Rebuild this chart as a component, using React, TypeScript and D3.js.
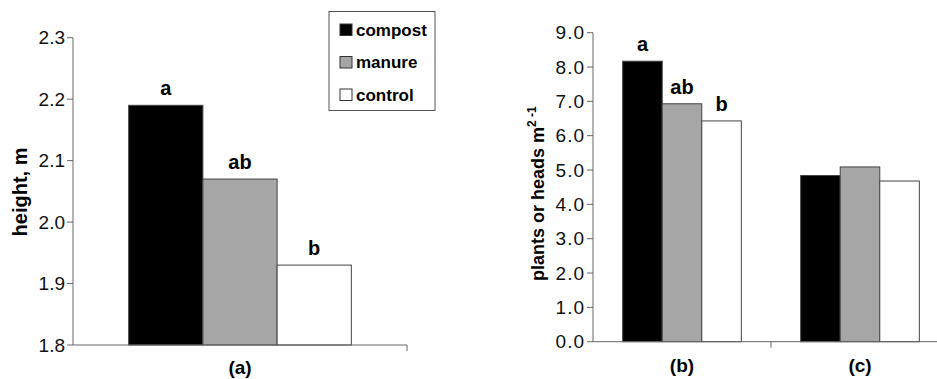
import React, { useEffect, useRef } from "react";
import * as d3 from "d3";

// treatments (legend + bar order)
const series = ["compost", "manure", "control"];
const seriesFill = ["#000000", "#a6a6a6", "#ffffff"];

// panel (a): plant height
const heightCats = ["(a)"];
const heightValues = [[2.19, 2.07, 1.93]];
const heightLetters = [["a", "ab", "b"]];
const heightTicks = [1.8, 1.9, 2.0, 2.1, 2.2, 2.3];

// panels (b) and (c): plants or heads per m2
const densityCats = ["(b)", "(c)"];
const densityValues = [
  [8.17, 6.93, 6.43],
  [4.84, 5.09, 4.68],
];
const densityLetters = [["a", "ab", "b"], ["", "", ""]];
const densityTicks = [0, 1, 2, 3, 4, 5, 6, 7, 8, 9];

const W = 937;
const H = 379;
const FONT = "'Liberation Sans', Arial, sans-serif";
const AXIS = "#666666";

const App = () => {
  const svgRef = useRef<SVGSVGElement>(null);

  useEffect(() => {
    const svg = d3.select(svgRef.current);
    svg.selectAll("*").remove();

    //draws one panel: axes, grouped bars, letters, category labels
    const drawPanel = (opts: {
      cats: string[];
      values: number[][];
      letters: string[][];
      ticks: number[];
      yDomain: [number, number];
      yRange: [number, number];
      xRange: [number, number];
      xEnd: number;
      tickFmt: (d: number) => string;
      tickSpacing: number;
      catY: number;
    }) => {
      const g = svg.append("g");
      const y = d3.scaleLinear().domain(opts.yDomain).range(opts.yRange);
      const x = d3.scaleBand<string>().domain(opts.cats).range(opts.xRange);
      const bw = x.bandwidth();
      const inner = d3
        .scaleBand<string>()
        .domain(series)
        .range([bw / 6, (bw * 5) / 6]);
      const x0 = opts.xRange[0];
      const yBase = y(opts.yDomain[0]);

      //bars
      opts.cats.forEach((c, ci) => {
        series.forEach((s, si) => {
          const v = opts.values[ci][si];
          const bx = (x(c) as number) + (inner(s) as number);
          g.append("rect")
            .attr("x", bx)
            .attr("y", y(v))
            .attr("width", inner.bandwidth())
            .attr("height", yBase - y(v))
            .attr("fill", seriesFill[si])
            .attr("stroke", "#444")
            .attr("stroke-width", 1);
          const lt = opts.letters[ci][si];
          if (lt) {
            g.append("text")
              .attr("x", bx + inner.bandwidth() / 2)
              .attr("y", y(v) - 10)
              .attr("text-anchor", "middle")
              .style("font-family", FONT)
              .style("font-weight", "bold")
              .style("font-size", "20px")
              .text(lt);
          }
        });
        //category label
        g.append("text")
          .attr("x", (x(c) as number) + bw / 2)
          .attr("y", opts.catY)
          .attr("text-anchor", "middle")
          .style("font-family", FONT)
          .style("font-weight", "bold")
          .style("font-size", "19px")
          .text(c);
      });

      //y axis
      g.append("line")
        .attr("x1", x0).attr("x2", x0)
        .attr("y1", y(opts.yDomain[1])).attr("y2", yBase)
        .attr("stroke", AXIS);
      opts.ticks.forEach((t) => {
        g.append("line")
          .attr("x1", x0 - 6).attr("x2", x0)
          .attr("y1", y(t)).attr("y2", y(t))
          .attr("stroke", AXIS);
        g.append("text")
          .attr("x", x0 - 8)
          .attr("y", y(t) + 6.5)
          .attr("text-anchor", "end")
          .style("font-family", FONT)
          .style("font-size", "19px")
          .style("letter-spacing", `${opts.tickSpacing}px`)
          .attr("fill", "#111")
          .text(opts.tickFmt(t));
      });

      //x axis with ticks between categories
      g.append("line")
        .attr("x1", x0).attr("x2", opts.xEnd)
        .attr("y1", yBase).attr("y2", yBase)
        .attr("stroke", AXIS);
      opts.cats.forEach((c) => {
        const tx = (x(c) as number) + bw;
        g.append("line")
          .attr("x1", tx).attr("x2", tx)
          .attr("y1", yBase).attr("y2", yBase + 6)
          .attr("stroke", AXIS);
      });
      return g;
    };

    drawPanel({
      cats: heightCats,
      values: heightValues,
      letters: heightLetters,
      ticks: heightTicks,
      yDomain: [1.8, 2.3],
      yRange: [345, 37.7],
      xRange: [73, 407],
      xEnd: 407,
      tickFmt: d3.format(".1f"),
      tickSpacing: 0,
      catY: 374,
    });

    drawPanel({
      cats: densityCats,
      values: densityValues,
      letters: densityLetters,
      ticks: densityTicks,
      yDomain: [0, 9],
      yRange: [341.7, 32.7],
      xRange: [593, 949],
      xEnd: 949,
      tickFmt: d3.format(".1f"),
      tickSpacing: 1,
      catY: 372,
    });

    //y-axis titles
    svg.append("text")
      .attr("transform", "translate(27,192) rotate(-90)")
      .attr("text-anchor", "middle")
      .style("font-family", FONT)
      .style("font-weight", "bold")
      .style("font-size", "20px")
      .text("height, m");

    const t2 = svg.append("text")
      .attr("transform", "translate(544,281) rotate(-90)")
      .attr("text-anchor", "start")
      .style("font-family", FONT)
      .style("font-weight", "bold")
      .style("font-size", "18px");
    t2.append("tspan").text("plants or heads m");
    t2.append("tspan")
      .attr("dy", -8)
      .style("font-size", "12px")
      .text("2 -1");

    //legend
    const lg = svg.append("g");
    lg.append("rect")
      .attr("x", 329).attr("y", 11.5)
      .attr("width", 106).attr("height", 99)
      .attr("fill", "#fff")
      .attr("stroke", "#555");
    series.forEach((s, i) => {
      const ly = 24 + i * 32.5;
      lg.append("rect")
        .attr("x", 340).attr("y", ly)
        .attr("width", 12).attr("height", 11.5)
        .attr("fill", seriesFill[i])
        .attr("stroke", "#333");
      lg.append("text")
        .attr("x", 356).attr("y", ly + 11.5)
        .style("font-family", FONT)
        .style("font-weight", "bold")
        .style("font-size", "17px")
        .text(s);
    });
  }, []);

  return (
    <svg
      ref={svgRef}
      width={W}
      height={H}
      style={{ position: "absolute", left: 0, top: 0, background: "#fff" }}
    />
  );
};

export default App;
